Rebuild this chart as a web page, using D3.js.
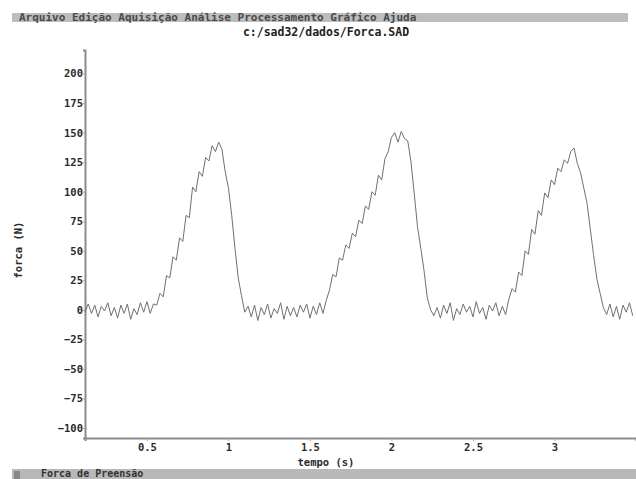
<!DOCTYPE html>
<html>
<head>
<meta charset="utf-8">
<script src="https://cdn.jsdelivr.net/npm/d3@7"></script>
<style>
  html, body { margin: 0; padding: 0; background: #fff; }
  svg { display: block; }
  text { font-family: "DejaVu Sans Mono", "Liberation Mono", monospace; font-weight: bold; }
</style>
</head>
<body>
<div id="chart"></div>
<script>

/**
 * Data
 */

const menuItems = ['Arquivo', 'Edição', 'Aquisição', 'Análise', 'Processamento', 'Gráfico', 'Ajuda'];
const fileTitle = 'c:/sad32/dados/Forca.SAD';
const seriesName = 'Forca de Preensão';
const xLabel = 'tempo (s)';
const yLabel = 'forca (N)';

const xTicks = [0.5, 1, 1.5, 2, 2.5, 3];
const yTicks = [-100, -75, -50, -25, 0, 25, 50, 75, 100, 125, 150, 175, 200];

// sampled signal: first sample time and interval (s)
const startTime = 0.12;
const sampleStep = 0.02;

// grip force (N)
const forceN = [
  // rest
  -2, 5, -3, 4, -6, 3, -1, 6, -5, 2, -7, 4, -3, 5, -8, 1, -4, 6, -2, 7, -3, 5,
  // grip 1
  4, 14, 11, 29, 27, 45, 42, 61, 58, 80, 78, 104, 100, 117, 113, 129, 126, 139, 134, 142,
  136, 117, 103, 80, 52, 27, 12, -2,
  // rest
  3, -6, 4, -9, 2, -4, 5, -7, 1, -3, 6, -8, 3, -5, 2, -6, 4, -2, 5, -7, 3, -4, 6, -3,
  // grip 2
  8, 17, 30, 28, 44, 42, 55, 52, 65, 62, 76, 73, 88, 85, 100, 97, 114, 110, 128, 134,
  146, 150, 142, 151, 145, 143, 125, 98, 70, 52, 33, 10, 0, -5,
  // rest
  2, -7, 4, -3, 6, -9, 1, -4, 5, -2, 3, -6, 7, -3, 2, -8, 4, -1, 6, -5, 3, -4,
  // grip 3
  9, 18, 15, 32, 29, 50, 47, 68, 64, 84, 80, 99, 95, 110, 106, 120, 117, 127, 124, 134,
  137, 124, 116, 103, 90, 68, 46, 26, 14, 2, -4,
  // rest
  5, -6, 3, -8, 4, -2, 6, -5,
];


/**
 * Setup
 */

const width = 636;
const height = 479;

const plot = { left: 85, right: 636, top: 50, bottom: 438 };

const svg = d3.select('#chart')
              .append('svg')
              .attr('width', width)
              .attr('height', height);

const x = d3.scaleLinear()
            .domain([0.12, 3.5])
            .range([plot.left, plot.right]);

const y = d3.scaleLinear()
            .domain([-108.5, 220])
            .range([plot.bottom, plot.top]);


/**
 * Window chrome
 */

svg.append('rect')
   .attr('x', 12).attr('y', 13)
   .attr('width', 616).attr('height', 9)
   .attr('fill', '#bdbdbd');

svg.append('text')
   .attr('x', 19).attr('y', 21)
   .attr('font-size', 11)
   .attr('fill', '#4a4a4a')
   .attr('xml:space', 'preserve')
   .text(menuItems.join(' '));

svg.append('text')
   .attr('x', 326).attr('y', 36)
   .attr('text-anchor', 'middle')
   .attr('font-size', 11.5)
   .attr('fill', '#222')
   .text(fileTitle);

svg.append('rect')
   .attr('x', 12).attr('y', 469)
   .attr('width', 624).attr('height', 10)
   .attr('fill', '#b8b8b8');

svg.append('rect')
   .attr('x', 14).attr('y', 471)
   .attr('width', 6).attr('height', 8)
   .attr('fill', '#888');

svg.append('text')
   .attr('x', 41).attr('y', 477)
   .attr('font-size', 10)
   .attr('fill', '#333')
   .text(seriesName);


/**
 * Axes
 */

const xAxis = svg.append('g')
                 .attr('transform', `translate(0,${plot.bottom})`)
                 .call(d3.axisBottom(x)
                         .tickValues(xTicks)
                         .tickSize(3)
                         .tickPadding(3)
                         .tickFormat(d3.format('')));

const yAxis = svg.append('g')
                 .attr('transform', `translate(${plot.left},0)`)
                 .call(d3.axisLeft(y)
                         .tickValues(yTicks)
                         .tickSize(2)
                         .tickPadding(0)
                         .tickFormat(d3.format('')));

[xAxis, yAxis].forEach(axis => {
  axis.select('.domain')
      .attr('stroke', '#8c8c8c')
      .attr('stroke-width', 2);
  axis.selectAll('.tick line').attr('stroke', '#aaa');
  axis.selectAll('.tick text')
      .attr('font-family', '"DejaVu Sans Mono", monospace')
      .attr('font-weight', 'bold')
      .attr('font-size', 10.5)
      .attr('fill', '#2a2a2a');
});

svg.append('text')
   .attr('x', 326).attr('y', 466)
   .attr('text-anchor', 'middle')
   .attr('font-size', 10.5)
   .attr('fill', '#2a2a2a')
   .text(xLabel);

svg.append('text')
   .attr('transform', 'translate(22,250) rotate(-90)')
   .attr('text-anchor', 'middle')
   .attr('font-size', 10.5)
   .attr('fill', '#2a2a2a')
   .text(yLabel);


/**
 * Trace
 */

const line = d3.line()
               .x((d, i) => x(startTime + i * sampleStep))
               .y(d => y(d));

svg.append('path')
   .datum(forceN)
   .attr('fill', 'none')
   .attr('stroke', '#707070')
   .attr('stroke-width', 1)
   .attr('d', line);

</script>
</body>
</html>
